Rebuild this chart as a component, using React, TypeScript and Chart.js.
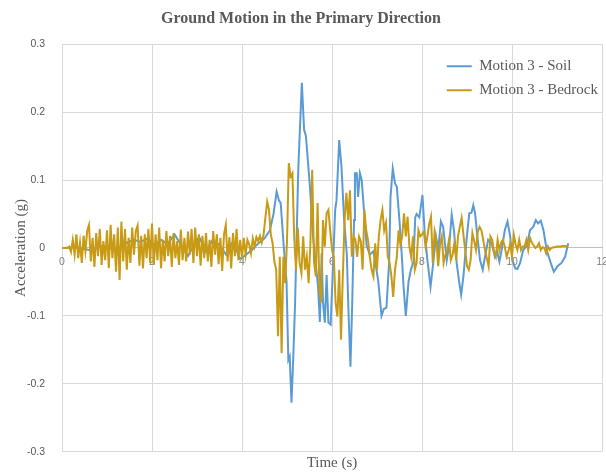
import React, { useEffect, useRef } from 'react';
import { Chart, registerables } from 'chart.js';

Chart.register(...registerables);

const TITLE = 'Ground Motion in the Primary Direction';
const X_TITLE = 'Time (s)';
const Y_TITLE = 'Acceleration (g)';
const SERIES_NAMES = ['Motion 3 - Soil', 'Motion 3 - Bedrock'];
const SERIES_COLORS = ['#5B9BD5', '#C99A14'];
const X_MIN = 0;
const X_MAX = 12;
const X_STEP = 2;
const Y_MIN = -0.3;
const Y_MAX = 0.3;
const Y_STEP = 0.1;

// Soil record (time in s, acceleration in g)
const SOIL_TIME = [
  0, 0.3, 0.6, 0.9, 1.2, 1.45, 1.6, 1.75, 1.9, 2.05, 2.2, 2.35, 2.5, 2.65, 2.8, 2.95, 3.05, 3.2, 3.35, 3.5,
  3.65, 3.8, 3.95, 4.05, 4.2, 4.35, 4.5, 4.62, 4.7, 4.77, 4.82, 4.86, 4.93, 4.99, 5.03, 5.06, 5.1, 5.14, 5.18, 5.25,
  5.33, 5.38, 5.42, 5.51, 5.58, 5.69, 5.73, 5.77, 5.8, 5.84, 5.88, 5.92, 5.97, 6.02, 6.07, 6.1, 6.16, 6.21, 6.27, 6.33,
  6.36, 6.41, 6.45, 6.49, 6.51, 6.55, 6.58, 6.62, 6.66, 6.71, 6.77, 6.84, 6.92, 6.96, 7.03, 7.1, 7.15, 7.21, 7.27, 7.3,
  7.35, 7.4, 7.44, 7.5, 7.55, 7.59, 7.64, 7.7, 7.75, 7.81, 7.85, 7.88, 7.94, 8.01, 8.06, 8.12, 8.19, 8.25, 8.31, 8.36,
  8.42, 8.47, 8.55, 8.61, 8.66, 8.71, 8.77, 8.83, 8.87, 8.92, 8.99, 9.05, 9.1, 9.14, 9.18, 9.23, 9.29, 9.35, 9.4, 9.47,
  9.55, 9.62, 9.67, 9.72, 9.77, 9.84, 9.9, 9.96, 10.01, 10.07, 10.12, 10.18, 10.25, 10.33, 10.4, 10.47, 10.53, 10.58, 10.64, 10.7,
  10.77, 10.86, 10.93, 11.01, 11.1, 11.18, 11.25,
];
const SOIL_ACC = [
  0, 0.001, -0.003, 0.003, -0.002, 0.008, 0.012, 0.009, 0.014, 0.004, 0.012, 0.006, 0.02, 0.004, -0.012, 0.006, 0.016, -0.006, 0.012, 0.004,
  -0.01, 0.01, -0.016, -0.012, -0.004, 0.006, 0.014, 0.026, 0.05, 0.083, 0.07, 0.066, 0.0, -0.05, -0.165, -0.16, -0.228, -0.16, -0.081, 0.115,
  0.243, 0.174, 0.165, 0.09, 0.016, -0.057, -0.109, -0.008, -0.08, -0.11, -0.04, -0.11, -0.113, -0.03, 0.056, 0.07, 0.159, 0.12, 0.041, -0.01,
  -0.081, -0.175, -0.08, 0.041, 0.11, 0.11, 0.075, 0.11, 0.1, 0.056, 0.003, -0.01, -0.005, -0.02, -0.05, -0.1, -0.09, -0.088, -0.02, 0.075,
  0.117, 0.095, 0.09, 0.04, -0.01, -0.057, -0.1, -0.05, -0.033, -0.02, 0.045, 0.05, 0.045, 0.078, 0.022, -0.018, -0.057, -0.022, 0.017, -0.003,
  0.039, 0.031, -0.018, 0.007, 0.049, 0.026, -0.022, -0.052, -0.069, -0.042, 0.012, 0.051, 0.052, 0.063, 0.051, 0.017, -0.018, -0.032, -0.013, 0.012,
  0.007, -0.013, -0.005, -0.02, -0.003, 0.026, 0.039, 0.017, -0.018, -0.03, -0.031, -0.022, -0.003, 0.003, 0.026, 0.031, 0.041, 0.036, 0.04, 0.026,
  -0.003, -0.022, -0.035, -0.027, -0.022, -0.013, 0.007,
];

const BEDROCK_DT = 0.04;
const BEDROCK_ACC = [
  0, 0, 0, 0, 0.002, -0.006, 0.012, -0.01, 0.02, -0.015,
  0.008, -0.022, 0.018, -0.005, 0.025, 0.034, -0.02, 0.015, -0.028, 0.022,
  -0.012, 0.028, -0.025, 0.01, -0.018, 0.026, -0.03, 0.034, -0.015, 0.02,
  -0.035, 0.03, -0.047, 0.039, -0.02, 0.028, -0.032, 0.015, -0.022, 0.03,
  -0.01, 0.025, 0.033, -0.026, 0.018, -0.03, 0.02, -0.015, 0.028, -0.022,
  0.036, -0.025, 0.02, -0.018, 0.03, -0.03, 0.012, -0.02, 0.025, -0.012,
  0.018, -0.028, 0.022, -0.015, 0.01, -0.025, 0.027, -0.018, 0.015, -0.02,
  0.024, -0.01, 0.028, -0.022, 0.03, -0.012, 0.02, -0.026, 0.018, -0.015,
  0.022, -0.02, 0.012, -0.028, 0.025, -0.01, 0.02, -0.024, 0.015, -0.034,
  0.02, 0.034, -0.02, 0.016, -0.03, 0.022, -0.012, 0.028, -0.018, 0.012,
  -0.015, 0.015, -0.01, 0.012, 0.005, -0.008, 0.014, 0.002, 0.016, 0.01,
  0.018, 0.008, 0.02, 0.045, 0.068, 0.056, 0.02, 0.007, -0.02, -0.032,
  -0.13, -0.013, -0.155, -0.013, -0.052, 0.01, 0.125, 0.105, 0.11, 0.017,
  -0.032, 0.03, -0.022, -0.037, 0.017, -0.032, -0.013, -0.052, 0.007, 0.115,
  -0.02, -0.042, 0.066, -0.062, -0.08, 0.041, 0.002, 0.051, 0.056, 0.026,
  -0.003, -0.013, -0.081, -0.101, -0.032, -0.135, -0.042, 0.041, 0.081, 0.041,
  0.085, -0.013, 0.017, 0.012, -0.013, 0.017, 0.01, -0.032, 0.056, 0.026,
  0.012, -0.013, -0.032, -0.042, 0.007, -0.032, 0.017, 0.041, 0.056, 0.026,
  0.037, -0.013, -0.022, -0.042, -0.072, -0.032, -0.013, 0.026, 0.005, 0.017,
  0.051, 0.017, 0.046, 0.002, -0.013, 0.017, -0.032, -0.022, 0.026, 0.017,
  0.02, 0.024, 0.002, 0.017, 0.035, 0.046, -0.022, 0.024, 0.01, -0.027,
  0.005, 0.017, -0.022, -0.01, -0.003, 0.012, -0.018, -0.01, 0.007, -0.018,
  0.017, 0.031, 0.044, 0.02, -0.003, -0.027, -0.032, -0.018, 0.022, 0.01,
  -0.003, 0.024, 0.031, 0.026, 0.012, -0.003, -0.015, -0.027, 0.017, 0.012,
  -0.005, -0.013, 0.012, -0.003, 0.008, 0.012, 0.002, -0.013, -0.005, 0.007,
  -0.013, 0.019, 0.005, -0.003, 0.012, -0.003, 0.002, 0.002, 0.012, -0.003,
  0.015, 0.008, 0.004, 0, 0.002, 0.007, -0.003, 0.001, 0, -0.008,
  0.002, -0.003, 0, 0.001, 0.001, 0.002, 0.002, 0.002, 0.003, 0.003, 0.003, 0.003,
];

const TEXT_COLOR = '#595959';
const GRID_COLOR = '#d9d9d9';

const legendInsideRight = {
  id: 'legendInsideRight',
  afterLayout(chart: any) {
    const lg = chart.legend;
    const ca = chart.chartArea;
    if (!lg || !ca) return;
    const w = lg.width;
    lg.left = ca.right - w + 6;
    lg.right = lg.left + w;
    lg.top = ca.top + 5.5;
    lg.bottom = lg.top + lg.height;
  },
};

export default function App() {
  const ref = useRef<HTMLCanvasElement>(null);
  useEffect(() => {
    document.body.style.margin = '0';
    document.body.style.overflow = 'hidden';
    const soilData = SOIL_TIME.map((t, i) => ({ x: t, y: SOIL_ACC[i] }));
    const bedrockData = BEDROCK_ACC.map((v, i) => ({ x: +(i * BEDROCK_DT).toFixed(2), y: v }));
    const chart = new Chart(ref.current as HTMLCanvasElement, {
      type: 'line',
      data: {
        datasets: [
          {
            label: SERIES_NAMES[0],
            data: soilData,
            borderColor: SERIES_COLORS[0],
            backgroundColor: SERIES_COLORS[0],
            borderWidth: 2,
            pointRadius: 0,
            tension: 0,
            order: 1,
          },
          {
            label: SERIES_NAMES[1],
            data: bedrockData,
            borderColor: SERIES_COLORS[1],
            backgroundColor: SERIES_COLORS[1],
            borderWidth: 2,
            pointRadius: 0,
            tension: 0,
            order: 0,
          },
        ],
      },
      options: {
        responsive: false,
        animation: false,
        layout: { padding: { left: 0, right: 4, top: 0, bottom: 0 } },
        plugins: {
          title: {
            display: true,
            text: TITLE,
            color: TEXT_COLOR,
            font: { family: 'Liberation Serif', size: 16, weight: 'bold', lineHeight: 1.2 },
            padding: { top: 9, bottom: 16 },
          },
          legend: {
            position: 'chartArea',
            align: 'start',
            labels: {
              usePointStyle: true,
              pointStyle: 'line',
              pointStyleWidth: 25,
              color: TEXT_COLOR,
              font: { family: 'Liberation Serif', size: 15 },
              padding: 9,
              sort: (a: any, b: any) => a.datasetIndex - b.datasetIndex,
            },
          },
          tooltip: { enabled: false },
        },
        scales: {
          x: {
            type: 'linear',
            position: { y: 0 },
            min: X_MIN,
            max: X_MAX,
            ticks: {
              stepSize: X_STEP,
              color: '#7f7f7f',
              font: { family: 'Liberation Sans', size: 10.5 },
              padding: 8,
              maxRotation: 0,
              autoSkip: false,
            },
            grid: { color: GRID_COLOR, drawTicks: false },
            border: { color: '#bfbfbf' },
            afterFit: (scale: any) => {
              scale.paddingLeft = 0;
              scale.paddingRight = 0;
            },
          },
          x2: {
            type: 'linear',
            position: 'bottom',
            display: true,
            min: X_MIN,
            max: X_MAX,
            ticks: { display: false },
            grid: { display: false, drawTicks: false },
            border: { display: false },
            title: {
              display: true,
              text: X_TITLE,
              color: TEXT_COLOR,
              font: { family: 'Liberation Serif', size: 15, lineHeight: 1 },
              padding: { top: 3.5, bottom: 4.5 },
            },
          },
          y: {
            type: 'linear',
            min: Y_MIN,
            max: Y_MAX,
            ticks: {
              stepSize: Y_STEP,
              color: TEXT_COLOR,
              font: { family: 'Liberation Sans', size: 10.5 },
              padding: 17,
            },
            grid: { color: GRID_COLOR, drawTicks: false },
            border: { display: false },
            title: {
              display: true,
              text: Y_TITLE,
              color: TEXT_COLOR,
              font: { family: 'Liberation Serif', size: 15, lineHeight: 1 },
              padding: { top: 14, bottom: 0 },
            },
            afterFit: (scale: any) => {
              scale.width = 62;
            },
          },
        },
      } as any,
      plugins: [legendInsideRight],
    });
    return () => chart.destroy();
  }, []);
  return <canvas ref={ref} width={606} height={475} style={{ display: 'block' }} />;
}
